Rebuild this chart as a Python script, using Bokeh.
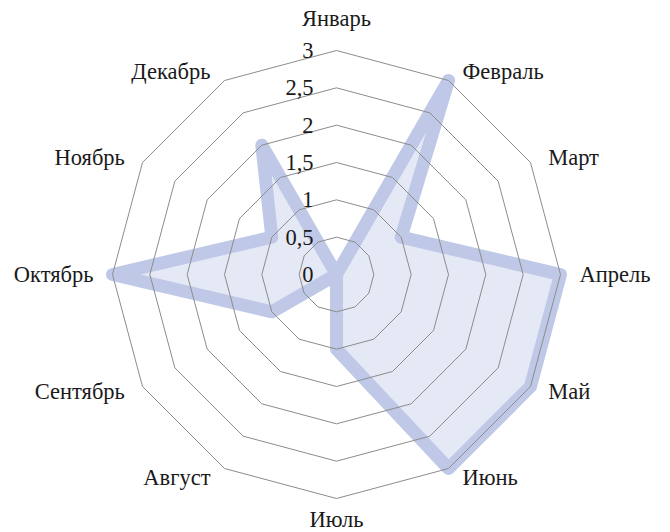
import math
from bokeh.plotting import figure
from bokeh.models import Range1d, ColumnDataSource
from bokeh.core.properties import value
from bokeh.embed import file_html
from bokeh.resources import INLINE

months = ["Январь", "Февраль", "Март", "Апрель", "Май", "Июнь",
          "Июль", "Август", "Сентябрь", "Октябрь", "Ноябрь", "Декабрь"]
values = [0, 3, 1, 3, 3, 3, 1, 0, 1, 3, 1, 2]
ticks = [0, 0.5, 1, 1.5, 2, 2.5, 3]
tick_labels = ["0", "0,5", "1", "1,5", "2", "2,5", "3"]

W, H = 670, 532
K = 224 / 3.0          # px per unit
CX, CY = 336, 274      # center in figure px (from left, from top)

p = figure(width=W, height=H, output_backend="svg", toolbar_location=None,
           x_range=Range1d(-CX / K, (W - CX) / K),
           y_range=Range1d(-(H - CY) / K, CY / K),
           min_border=0)
p.axis.visible = False
p.grid.visible = False
p.outline_line_color = None
p.background_fill_color = "white"

n = len(months)
ang = [2 * math.pi * i / n for i in range(n)]
sx = [math.sin(a) for a in ang]
cy = [math.cos(a) for a in ang]

FONT = value("Liberation Serif")
FS = "22.5px"

# series fill
px = [v * s for v, s in zip(values, sx)]
py = [v * c for v, c in zip(values, cy)]
p.patch(px, py, fill_color="#e5e9f6", line_color=None)
p.line(px + [px[0]], py + [py[0]], line_color="#bfc9e7", line_width=13,
       line_join="round")

# grid rings
for t in ticks[1:]:
    gx = [t * s for s in sx] + [0]
    gy = [t * c for c in cy] + [t]
    p.line(gx, gy, line_color="#8c8c8c", line_width=1)

# tick labels
p.text(x=[0] * len(ticks), y=ticks, text=tick_labels, text_font=FONT,
       text_font_size=FS, text_color="#1a1a1a", text_align="right",
       text_baseline="middle", x_offset=-23)

# category labels
RL = 234 / K
lx, ly, al, bl, xo, yo = [], [], [], [], [], []
for s, c in zip(sx, cy):
    lx.append(RL * s)
    ly.append(RL * c)
    if s > 0.01:
        al.append("left"); xo.append(9)
    elif s < -0.01:
        al.append("right"); xo.append(-9)
    else:
        al.append("center"); xo.append(0)
    if c > 0.99:
        bl.append("bottom"); yo.append(-10)
    elif c < -0.99:
        bl.append("top"); yo.append(-2)
    else:
        bl.append("middle"); yo.append(0)
src = ColumnDataSource(dict(x=lx, y=ly, t=months, al=al, bl=bl, xo=xo, yo=yo))
p.text(x="x", y="y", text="t", source=src, text_font=FONT, text_font_size=FS,
       text_color="#1a1a1a", text_align="al", text_baseline="bl",
       x_offset="xo", y_offset="yo")

open("out.html", "w").write(file_html(p, INLINE))
